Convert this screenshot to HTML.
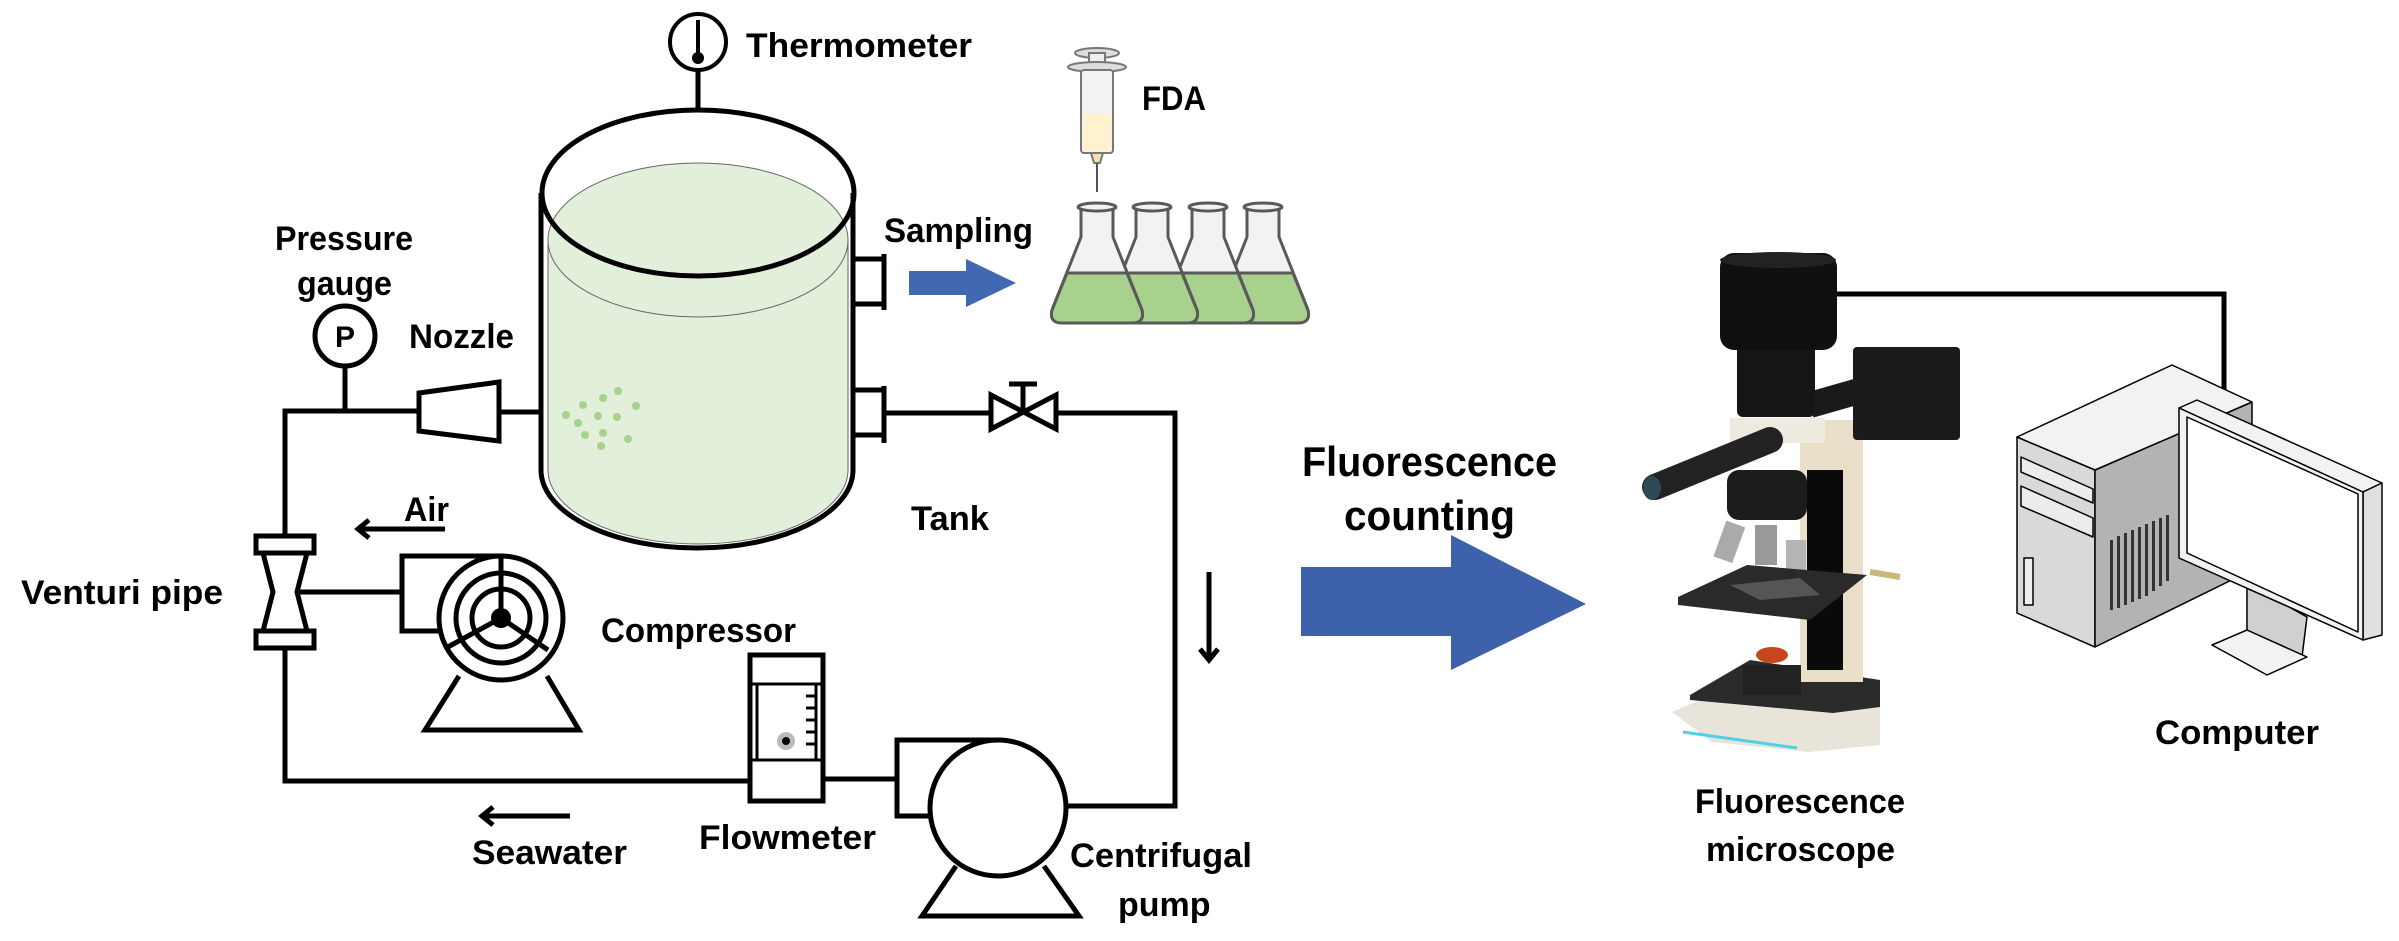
<!DOCTYPE html>
<html><head><meta charset="utf-8"><style>
html,body{margin:0;padding:0;background:#fff;}
svg{display:block}
text{font-family:"Liberation Sans",Arial,sans-serif;font-weight:bold;fill:#000;}
</style></head><body>
<svg width="2399" height="941" viewBox="0 0 2399 941" xmlns="http://www.w3.org/2000/svg">
<!-- Thermometer -->
<circle cx="698" cy="42" r="28" fill="#fff" stroke="#000" stroke-width="4"/>
<line x1="698" y1="20" x2="698" y2="55" stroke="#000" stroke-width="4"/>
<circle cx="698" cy="58" r="6"/>
<line x1="698" y1="70" x2="698" y2="111" stroke="#000" stroke-width="5"/>
<text x="746" y="57" font-size="34" textLength="226" lengthAdjust="spacingAndGlyphs">Thermometer</text>

<!-- Tank -->
<path d="M548,240 A150,77 0 0 1 848,240 L848,470 A150,74 0 0 1 548,470 Z" fill="#e2efda" stroke="#666" stroke-width="1"/>
<path d="M548,240 A150,77 0 0 0 848,240" fill="none" stroke="#666" stroke-width="1"/>
<ellipse cx="698" cy="193" rx="156" ry="83" fill="none" stroke="#000" stroke-width="5"/>
<line x1="541" y1="193" x2="541" y2="470" stroke="#000" stroke-width="5"/>
<line x1="853" y1="193" x2="853" y2="470" stroke="#000" stroke-width="5"/>
<path d="M541,470 A156,78 0 0 0 853,470" fill="none" stroke="#000" stroke-width="5"/>
<g fill="#a9d18e">
<circle cx="583" cy="405" r="4"/><circle cx="603" cy="398" r="4"/><circle cx="618" cy="391" r="4"/><circle cx="566" cy="415" r="4"/><circle cx="598" cy="416" r="4"/><circle cx="617" cy="417" r="4"/><circle cx="636" cy="406" r="4"/><circle cx="578" cy="423" r="4"/><circle cx="585" cy="435" r="4"/><circle cx="603" cy="433" r="4"/><circle cx="628" cy="439" r="4"/><circle cx="601" cy="446" r="4"/>
</g>
<text x="911" y="530" font-size="34" textLength="78" lengthAdjust="spacingAndGlyphs">Tank</text>

<g stroke="#000" stroke-width="5" fill="none">
<path d="M853,259 L884,259 M853,304 L884,304 M884,254 L884,310"/>
<path d="M853,390 L884,390 M853,435 L884,435 M884,386 L884,443"/>
<path d="M884,413 L991,413 M1056,413 L1175,413 L1175,806 L1066,806"/>
<path d="M991,395 L1056,429 L1056,395 L991,429 Z"/>
<path d="M1023,412 L1023,384 M1009,384 L1037,384"/>
<path d="M541,412 L499,412"/>
<path d="M419,411 L285,411 L285,536"/>
<path d="M285,648 L285,781 L750,781"/>
<path d="M823,779 L897,779"/>
<path d="M345,411 L345,366"/>
<path d="M419,393 L499,382 L499,441 L419,431 Z"/>
<rect x="256" y="536" width="58" height="17"/>
<rect x="256" y="631" width="58" height="17"/>
<path d="M263,553 L273,592 L263,631 M307,553 L297,592 L307,631"/>
<path d="M297,592 L402,592"/>
<path d="M501,556 L402,556 L402,631 L441,631"/>
<circle cx="501" cy="618" r="62" fill="#fff"/>
<circle cx="501" cy="618" r="45"/>
<circle cx="501" cy="618" r="29"/>
<path d="M501,618 L501,556 M501,618 L446,648 M501,618 L548,650" stroke-width="5"/>
<path d="M459,676 L425,730 L579,730 L547,676"/>
<rect x="750" y="655" width="73" height="146" fill="#fff"/>
<path d="M750,684 L823,684 M750,760 L823,760 M757,684 L757,760 M816,684 L816,760" stroke-width="3"/>
<path d="M806,696 L816,696 M806,708 L816,708 M806,720 L816,720 M806,732 L816,732 M806,744 L816,744" stroke-width="3"/>
<path d="M998,740 L897,740 L897,816 L932,816"/>
<path d="M956,866 L922,916 L1079,916 L1044,866"/>
<circle cx="998" cy="808" r="68" fill="#fff"/>
<circle cx="345" cy="336" r="30" fill="#fff"/>
<path d="M358,529 L445,529 M369,520 L358,529 L369,538"/>
<path d="M482,816 L570,816 M493,807 L482,816 L493,825"/>
<path d="M1209,572 L1209,660 M1200,649 L1209,660 L1218,649"/>
</g>
<circle cx="786" cy="741" r="9" fill="#bbb"/><circle cx="786" cy="741" r="4" fill="#000"/>
<circle cx="501" cy="618" r="10" fill="#000"/>
<text x="345" y="347" font-size="30" text-anchor="middle">P</text>

<text x="275" y="250" font-size="34" textLength="138" lengthAdjust="spacingAndGlyphs">Pressure</text>
<text x="297" y="295" font-size="34" textLength="95" lengthAdjust="spacingAndGlyphs">gauge</text>
<text x="409" y="348" font-size="34" textLength="105" lengthAdjust="spacingAndGlyphs">Nozzle</text>
<text x="404" y="521" font-size="34" textLength="45" lengthAdjust="spacingAndGlyphs">Air</text>
<text x="21" y="604" font-size="34" textLength="202" lengthAdjust="spacingAndGlyphs">Venturi pipe</text>
<text x="601" y="642" font-size="34" textLength="195" lengthAdjust="spacingAndGlyphs">Compressor</text>
<text x="699" y="849" font-size="34" textLength="177" lengthAdjust="spacingAndGlyphs">Flowmeter</text>
<text x="472" y="864" font-size="34" textLength="155" lengthAdjust="spacingAndGlyphs">Seawater</text>
<text x="1070" y="867" font-size="34" textLength="182" lengthAdjust="spacingAndGlyphs">Centrifugal</text>
<text x="1118" y="916" font-size="34">pump</text>
<text x="884" y="242" font-size="34" textLength="149" lengthAdjust="spacingAndGlyphs">Sampling</text>
<text x="1142" y="110" font-size="34" textLength="64" lengthAdjust="spacingAndGlyphs">FDA</text>

<polygon points="909,271 966,271 966,259 1016,283 966,307 966,295 909,295" fill="#4168b0"/>

<g stroke="#777" stroke-width="2">
<ellipse cx="1097" cy="53" rx="22" ry="5" fill="#ddd"/>
<rect x="1089" y="53" width="16" height="13" fill="#eee"/>
<ellipse cx="1097" cy="67" rx="29" ry="5" fill="#ddd"/>
<rect x="1081" y="70" width="32" height="83" rx="3" fill="#f2f2f2"/>
<rect x="1083" y="114" width="28" height="37" fill="#fff2cc" stroke="none"/>
<path d="M1091,153 L1103,153 L1100,163 L1094,163 Z" fill="#f5deb3"/>
<line x1="1097" y1="163" x2="1097" y2="192" stroke="#555"/>
</g>

<g stroke="#595959" stroke-width="3">
<path d="M1247,207 L1247,237 L1218,310 Q1215,323 1228,323 L1298,323 Q1311,323 1308,310 L1279,237 L1279,207 Z" fill="#f2f2f2"/>
<path d="M1233,273 L1293,273 L1308,310 Q1311,323 1298,323 L1228,323 Q1215,323 1218,310 Z" fill="#a9d18e"/>
<ellipse cx="1263" cy="207" rx="19" ry="4" fill="#f2f2f2"/>
<path d="M1192,207 L1192,237 L1163,310 Q1160,323 1173,323 L1243,323 Q1256,323 1253,310 L1224,237 L1224,207 Z" fill="#f2f2f2"/>
<path d="M1178,273 L1238,273 L1253,310 Q1256,323 1243,323 L1173,323 Q1160,323 1163,310 Z" fill="#a9d18e"/>
<ellipse cx="1208" cy="207" rx="19" ry="4" fill="#f2f2f2"/>
<path d="M1136,207 L1136,237 L1107,310 Q1104,323 1117,323 L1187,323 Q1200,323 1197,310 L1168,237 L1168,207 Z" fill="#f2f2f2"/>
<path d="M1122,273 L1182,273 L1197,310 Q1200,323 1187,323 L1117,323 Q1104,323 1107,310 Z" fill="#a9d18e"/>
<ellipse cx="1152" cy="207" rx="19" ry="4" fill="#f2f2f2"/>
<path d="M1081,207 L1081,237 L1052,310 Q1049,323 1062,323 L1132,323 Q1145,323 1142,310 L1113,237 L1113,207 Z" fill="#f2f2f2"/>
<path d="M1067,273 L1127,273 L1142,310 Q1145,323 1132,323 L1062,323 Q1049,323 1052,310 Z" fill="#a9d18e"/>
<ellipse cx="1097" cy="207" rx="19" ry="4" fill="#f2f2f2"/>
</g>

<polygon points="1301,567 1451,567 1451,535 1586,604 1451,670 1451,636 1301,636" fill="#3d61aa"/>
<text x="1302" y="476" font-size="42" textLength="255" lengthAdjust="spacingAndGlyphs">Fluorescence</text>
<text x="1344" y="530" font-size="42" textLength="171" lengthAdjust="spacingAndGlyphs">counting</text>

<path d="M1835,294 L2224,294 L2224,400" fill="none" stroke="#000" stroke-width="5"/>

<polygon points="1672,712 1700,700 1880,705 1880,745 1808,752 1712,742" fill="#e8e4da"/>
<line x1="1683" y1="732" x2="1797" y2="748" stroke="#4fd0e8" stroke-width="3"/>
<polygon points="1690,695 1750,660 1880,680 1880,707 1833,713 1690,700" fill="#2b2b2b"/>
<rect x="1800" y="420" width="63" height="262" fill="#e9dfc8"/>
<rect x="1807" y="470" width="36" height="200" fill="#0a0a0a"/>
<rect x="1743" y="665" width="58" height="30" fill="#222"/>
<ellipse cx="1772" cy="655" rx="16" ry="8" fill="#c8461e"/>
<rect x="1730" y="418" width="95" height="25" fill="#eeeae0"/>
<path d="M1655,487 L1770,440" stroke="#222" stroke-width="26" stroke-linecap="round"/>
<ellipse cx="1652" cy="488" rx="9" ry="12" fill="#2f4a55"/>
<rect x="1727" y="470" width="80" height="50" rx="12" fill="#1c1c1c"/>
<rect x="1720" y="523" width="20" height="38" fill="#aaa" transform="rotate(20 1730 540)"/>
<rect x="1755" y="525" width="22" height="40" fill="#999"/>
<rect x="1786" y="540" width="20" height="40" fill="#b5b5b5"/>
<polygon points="1678,597 1747,565 1867,575 1810,620 1678,605" fill="#2a2a2a"/>
<polygon points="1730,585 1800,578 1820,595 1760,600" fill="#555"/>
<path d="M1810,405 L1880,385" stroke="#1a1a1a" stroke-width="26"/>
<rect x="1853" y="347" width="107" height="93" rx="4" fill="#1b1b1b"/>
<rect x="1737" y="345" width="78" height="72" rx="6" fill="#151515"/>
<rect x="1720" y="253" width="117" height="97" rx="14" fill="#101010"/>
<ellipse cx="1778" cy="260" rx="58" ry="8" fill="#222"/>
<path d="M1870,572 L1900,577" stroke="#c9b67a" stroke-width="6"/>
<text x="1695" y="813" font-size="34" textLength="210" lengthAdjust="spacingAndGlyphs">Fluorescence</text>
<text x="1706" y="861" font-size="34" textLength="189" lengthAdjust="spacingAndGlyphs">microscope</text>

<g stroke="#000" stroke-width="1.5" stroke-linejoin="round">
<polygon points="2017,437 2095,470 2095,647 2017,613" fill="#d9d9d9"/>
<polygon points="2095,470 2252,402 2252,570 2095,647" fill="#b3b3b3"/>
<polygon points="2017,437 2172,365 2252,402 2095,470" fill="#f2f2f2"/>
<polygon points="2021,457 2093,489 2093,503 2021,472" fill="#ececec"/>
<polygon points="2021,486 2093,518 2093,537 2021,506" fill="#ececec"/>
<rect x="2024" y="558" width="9" height="47" fill="#eee"/>
<polygon points="2247,583 2247,630 2302,657 2307,617" fill="#d0d0d0"/>
<polygon points="2212,645 2247,630 2307,657 2267,675" fill="#f2f2f2"/>
<polygon points="2179,408 2197,400 2382,483 2363,492" fill="#f2f2f2"/>
<polygon points="2363,492 2382,483 2382,635 2363,640" fill="#e0e0e0"/>
<polygon points="2179,408 2363,492 2363,640 2179,558" fill="#f2f2f2"/>
<polygon points="2187,417 2358,494 2358,632 2187,553" fill="#fff"/>
</g>
<g fill="#333">
<rect x="2110" y="540" width="3" height="70"/><rect x="2117" y="536" width="3" height="72"/><rect x="2124" y="533" width="3" height="72"/><rect x="2131" y="530" width="3" height="72"/><rect x="2138" y="527" width="3" height="72"/><rect x="2145" y="524" width="3" height="72"/><rect x="2152" y="521" width="3" height="70"/><rect x="2159" y="518" width="3" height="68"/><rect x="2166" y="515" width="3" height="66"/>
</g>
<text x="2155" y="744" font-size="34" textLength="164" lengthAdjust="spacingAndGlyphs">Computer</text>
</svg>
</body></html>
